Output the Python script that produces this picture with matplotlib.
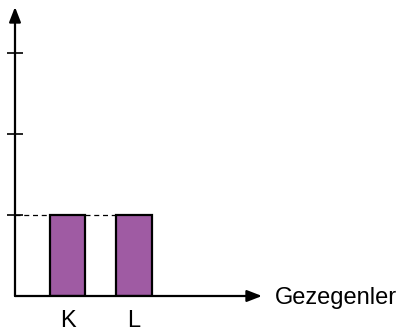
import matplotlib
matplotlib.use("Agg")
import matplotlib.pyplot as plt

categories = ["K", "L"]
values = [1, 1]
y_ticks = [1, 2, 3]
x_label = "Gezegenler"

W, H = 401, 335
fig = plt.figure(figsize=(W / 100, H / 100), dpi=100)
x0, y0 = 15, 296      # axis origin (pixels from top-left)
xr, yt = 262, 7       # arrow tips
ax = fig.add_axes([x0 / W, (H - y0) / H, (xr - x0) / W, (y0 - yt) / H])

plt.rcParams['font.family'] = ['Liberation Sans', 'DejaVu Sans']

pos = list(range(len(categories)))
ax.bar(pos, values, width=0.535, color="#9F5BA3", edgecolor="black",
       linewidth=1.6, zorder=3)
ax.plot([-0.789, 1 - 0.535 / 2], [values[0], values[0]], color="black",
        linewidth=0.9, linestyle=(0, (4, 3)), zorder=2)

ax.set_xlim(-0.789, 2.925)
ax.set_ylim(0, (y0 - yt) / 81)
for s in ax.spines.values():
    s.set_visible(False)

ax.set_xticks(pos)
ax.set_xticklabels(categories, fontsize=17, family=['Liberation Sans', 'DejaVu Sans'])
ax.tick_params(axis='x', length=0, pad=10)
ax.set_yticks(y_ticks)
ax.set_yticklabels([])
ax.tick_params(axis='y', direction='inout', length=12, width=1.2)

arrow = dict(arrowstyle="-|>,head_length=0.9,head_width=0.35", color="black",
             lw=1.6, shrinkA=0, shrinkB=0)
ax.annotate("", xy=(1, 0), xytext=(0, 0), xycoords="axes fraction",
            textcoords="axes fraction", arrowprops=arrow, zorder=5)
ax.annotate("", xy=(0, 1), xytext=(0, 0), xycoords="axes fraction",
            textcoords="axes fraction", arrowprops=arrow, zorder=5)

fig.text(275 / W, (H - 298) / H, x_label, fontsize=17, va="center", ha="left",
         family=['Liberation Sans', 'DejaVu Sans'])

fig.savefig("out.png", dpi=100)
